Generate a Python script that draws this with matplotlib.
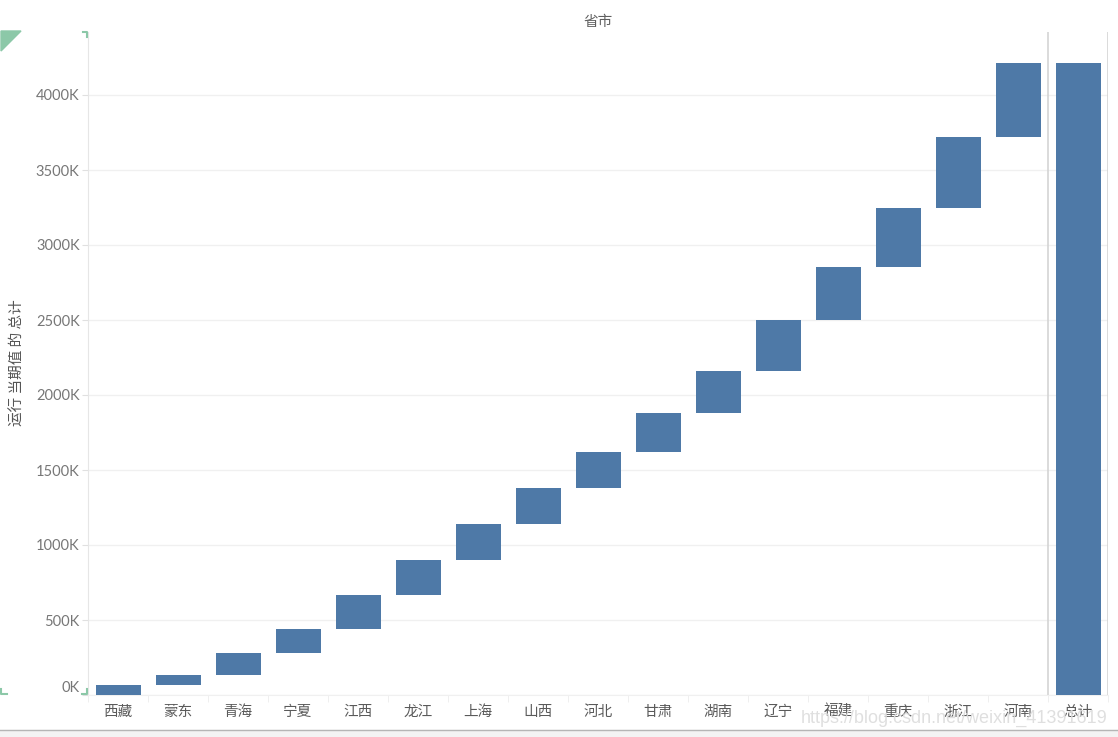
import matplotlib
matplotlib.use("Agg")
import matplotlib.pyplot as plt
import matplotlib.transforms as mtransforms
import numpy as np
from matplotlib.patches import Polygon, Rectangle
from matplotlib.lines import Line2D

plt.rcParams['font.family'] = ['Noto Sans CJK SC', 'DejaVu Sans']

provinces = ["西藏", "蒙东", "青海", "宁夏", "江西", "龙江", "上海", "山西",
             "河北", "甘肃", "湖南", "辽宁", "福建", "重庆", "浙江", "河南"]
increments_k = [67, 66, 147, 160, 227, 233, 240, 240, 240, 260, 280, 340, 353, 394, 473, 493]
total_label = "总计"
yticks_k = [0, 500, 1000, 1500, 2000, 2500, 3000, 3500, 4000]
ytick_labels = [f"{v}K" for v in yticks_k]

bar_color = "#4e79a7"

fig = plt.figure(figsize=(11.18, 7.37), dpi=100)
W, H = 1118, 737
ax = fig.add_axes([88 / W, (H - 695) / H, (1108 - 88) / W, (695 - 32) / H])

inc = np.array(increments_k, dtype=float)
ends = np.cumsum(inc)
starts = ends - inc
x = np.arange(len(provinces))
ax.bar(x, inc, bottom=starts, width=0.75, color=bar_color, zorder=3)
total = ends[-1]
ax.bar([len(provinces)], [total], width=0.75, color=bar_color, zorder=3)

ax.set_xlim(-0.5, len(provinces) + 0.5)
ax.set_ylim(0, 4420)

ax.set_yticks(yticks_k)
ax.set_yticklabels(ytick_labels, fontsize=10.5, color="#777777", family=['Lato', 'DejaVu Sans'])
ax.tick_params(axis='y', length=4, color="#e0e0e0", pad=2)
ax.yaxis.grid(True, color="#f0f0f0", linewidth=1, zorder=0)
# lift the 0K label slightly, as in the reference
zero_lbl = ax.get_yticklabels()[0]
zero_lbl.set_transform(zero_lbl.get_transform() +
                       mtransforms.ScaledTranslation(0, 8 / 100, fig.dpi_scale_trans))

ax.set_xticks(list(x) + [len(provinces)])
ax.set_xticklabels(provinces + [total_label], fontsize=10.5, color="#5a5a5a")
ax.tick_params(axis='x', length=0, pad=7)
ax.set_xticks(np.arange(-0.5, len(provinces) + 1.0, 1.0), minor=True)
ax.tick_params(axis='x', which='minor', length=5, color="#ececec")

for s in ["top", "right"]:
    ax.spines[s].set_visible(False)
ax.spines["left"].set_color("#e6e6e6")
ax.spines["bottom"].set_color("#f0f0f0")

ax.axvline(len(provinces) - 0.5, color="#d4d4d4", linewidth=1.2, zorder=2)
ax.axvline(len(provinces) + 0.5, color="#d4d4d4", linewidth=1.2, zorder=2)

fig.text(598 / W, 1 - 22 / H, "省市", ha="center", va="center", fontsize=10.5, color="#5f5f5f")
fig.text(18 / W, 1 - 363 / H, "运行 当期值 的 总计", ha="center", va="center",
         rotation=90, fontsize=10.5, color="#555555")

# corner decorations
green = "#8cc8a8"
fig.patches.append(Polygon([[1 / W, 1 - 31 / H], [21 / W, 1 - 31 / H], [1 / W, 1 - 51 / H]],
                           closed=True, transform=fig.transFigure, color=green, figure=fig))
for (xs, ys) in [([83, 87, 87], [32, 32, 37]),
                 ([1, 1, 7], [689, 694, 694]),
                 ([82, 87, 87], [694, 694, 689])]:
    fig.lines.append(Line2D([v / W for v in xs], [1 - v / H for v in ys],
                            transform=fig.transFigure, color=green, linewidth=1.5, figure=fig))

# bottom band
fig.patches.append(Rectangle((0, 0), 1, 7 / H, transform=fig.transFigure,
                             color="#f3f3f3", figure=fig, zorder=0))
fig.lines.append(Line2D([0, 1], [7 / H, 7 / H], transform=fig.transFigure,
                        color="#b5b5b5", linewidth=1, figure=fig))

fig.text(1108 / W, 1 - 718 / H, "https://blog.csdn.net/weixin_41391619", ha="right", va="center",
         fontsize=13, color="#dcdcdc", family=['Liberation Sans', 'DejaVu Sans'], alpha=0.9)

fig.savefig("out.png", dpi=100)
